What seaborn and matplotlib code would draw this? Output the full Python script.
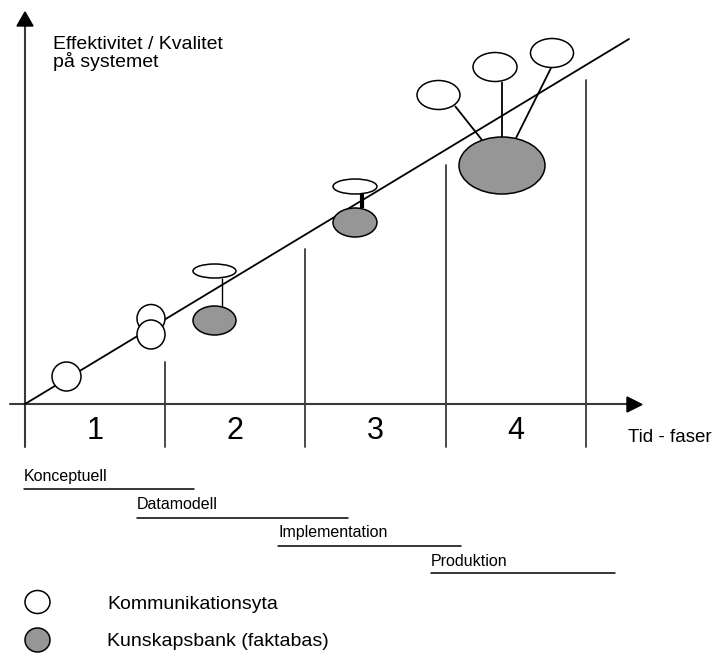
import matplotlib
matplotlib.use("Agg")
import matplotlib.pyplot as plt
from matplotlib.patches import Ellipse, Polygon
import seaborn as sns
import pandas as pd

sns.set_theme(style="white")
plt.rcParams['font.family'] = ['Liberation Sans', 'DejaVu Sans']

# ---- diagram data (pixel-like diagram units, y downward) ----
phase_numbers = ["1", "2", "3", "4"]
phase_centers = [95, 235, 375, 516]
divider_x = [25, 165, 305, 446, 586]
divider_top = [404, 362, 249, 165, 80]
divider_bottom = 447

trend_x = [25, 629]
trend_y = [404, 39]

phase_names = ["Konceptuell", "Datamodell", "Implementation", "Produktion"]
phase_start = [24, 137, 278, 431]
phase_end = [194, 348, 461, 615]
phase_text_y = [481, 509, 537, 566]
phase_line_y = [489, 518, 546, 573]

# ellipses: centre x, centre y, width, height
white_x = [66.5, 151, 151, 214.5, 355, 438.5, 495, 552]
white_y = [376.5, 318.5, 334.5, 271, 186.5, 95, 67, 53]
white_w = [29, 28, 28, 43, 44, 43, 44, 43]
white_h = [29, 28, 29, 14, 15, 29, 29, 29]

gray_x = [214.5, 355, 502]
gray_y = [320.5, 222.5, 165.5]
gray_w = [43, 44, 86]
gray_h = [29, 29, 57]

# connectors: x0, y0, x1, y1, width
conn_x0 = [222, 362, 455, 502, 551]
conn_y0 = [278, 194, 106, 82, 68]
conn_x1 = [222, 362, 482, 502, 516]
conn_y1 = [306, 208, 140, 137, 138]
conn_lw = [1.0, 3.0, 1.3, 1.3, 1.3]

legend_labels = ["Kommunikationsyta", "Kunskapsbank (faktabas)"]
legend_y = [602, 640]
legend_text_y = [609, 646]

gray_fill = "#969696"
axis_col = "#3a3a3a"

fig = plt.figure(figsize=(7.15, 6.57), dpi=100)
ax = fig.add_axes([0, 0, 1, 1])
ax.set_xlim(0, 715)
ax.set_ylim(657, 0)
ax.axis("off")

# axes
ax.plot([10, 628], [404, 404], color=axis_col, lw=1.5, zorder=2)
ax.plot([25, 25], [divider_bottom, 26], color=axis_col, lw=1.5, zorder=2)
ax.add_patch(Polygon([[17, 26], [33, 26], [25, 12]], closed=True, color="black", zorder=3))
ax.add_patch(Polygon([[627, 397], [627, 412], [642, 404.5]], closed=True, color="black", zorder=3))

for x, top in zip(divider_x[1:], divider_top[1:]):
    ax.plot([x, x], [top, divider_bottom], color=axis_col, lw=1.3, zorder=2)

# trend line
trend = pd.DataFrame({"x": trend_x, "y": trend_y})
sns.lineplot(data=trend, x="x", y="y", ax=ax, color="black", lw=1.3, zorder=3)
ax.set_xlim(0, 715)
ax.set_ylim(657, 0)
ax.axis("off")

# connectors
for x0, y0, x1, y1, lw in zip(conn_x0, conn_y0, conn_x1, conn_y1, conn_lw):
    ax.plot([x0, x1], [y0, y1], color="black", lw=lw, zorder=2.5, solid_capstyle="butt")

# ellipses
for x, y, w, h in zip(white_x, white_y, white_w, white_h):
    ax.add_patch(Ellipse((x, y), w, h, facecolor="white", edgecolor="black", lw=1.1, zorder=4))
for x, y, w, h in zip(gray_x, gray_y, gray_w, gray_h):
    ax.add_patch(Ellipse((x, y), w, h, facecolor=gray_fill, edgecolor="black", lw=1.1, zorder=4))

# phase numbers
for lab, cx in zip(phase_numbers, phase_centers):
    ax.text(cx, 439, lab, fontsize=22, ha="center", va="baseline", color="black")

ax.text(628, 442, "Tid - faser", fontsize=13.5, ha="left", va="baseline", color="black")
ax.text(53, 49, "Effektivitet / Kvalitet", fontsize=14, ha="left", va="baseline", color="black")
ax.text(53, 67, "på systemet", fontsize=14, ha="left", va="baseline", color="black")

# phase timeline
for name, x0, x1, ty, ly in zip(phase_names, phase_start, phase_end, phase_text_y, phase_line_y):
    ax.text(x0, ty, name, fontsize=11.5, ha="left", va="baseline", color="black")
    ax.plot([x0, x1], [ly, ly], color="black", lw=1.1)

# legend
ax.add_patch(Ellipse((37.5, legend_y[0]), 25, 23, facecolor="white", edgecolor="black", lw=1.1))
ax.add_patch(Ellipse((37.5, legend_y[1]), 25, 24, facecolor=gray_fill, edgecolor="black", lw=1.1))
for lab, ty in zip(legend_labels, legend_text_y):
    ax.text(107, ty, lab, fontsize=14, ha="left", va="baseline", color="black")

fig.savefig("out.png", dpi=100)
